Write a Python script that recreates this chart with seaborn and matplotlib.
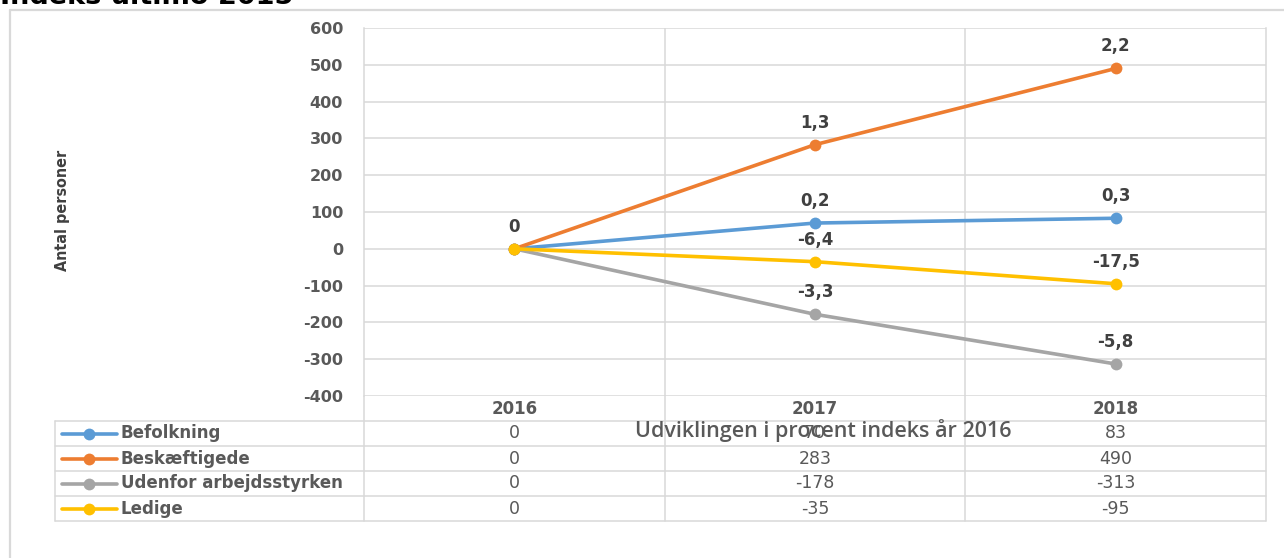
import matplotlib
matplotlib.use("Agg")
import matplotlib.pyplot as plt
import seaborn as sns
import pandas as pd
import numpy as np

# ---- data ----
years = ["2016", "2017", "2018"]
series_names = ["Befolkning", "Beskæftigede", "Udenfor arbejdsstyrken", "Ledige"]
befolkning = [0, 70, 83]
beskaeftigede = [0, 283, 490]
udenfor = [0, -178, -313]
ledige = [0, -35, -95]
pct_befolkning = ["0", "0,2", "0,3"]
pct_beskaeftigede = ["0", "1,3", "2,2"]
pct_udenfor = ["0", "-3,3", "-5,8"]
pct_ledige = ["0", "-6,4", "-17,5"]
colors = ["#5B9BD5", "#ED7D31", "#A5A5A5", "#FFC000"]
yticks = list(range(-400, 601, 100))
title = "Indeks ultimo 2015"
ylabel = "Antal personer"
xtitle = "Udviklingen i procent indeks år 2016"

values = [befolkning, beskaeftigede, udenfor, ledige]
pct_labels = [pct_befolkning, pct_beskaeftigede, pct_udenfor, pct_ledige]

rows = []
for name, vals in zip(series_names, values):
    for i, (yr, v) in enumerate(zip(years, vals)):
        rows.append({"serie": name, "pos": i, "year": yr, "value": v})
df = pd.DataFrame(rows)

sns.set_theme(style="white")
plt.rcParams["font.family"] = ["DejaVu Sans"]
plt.rcParams["axes.unicode_minus"] = False

W, H = 1284, 558
fig = plt.figure(figsize=(W / 100, H / 100), dpi=100)

def fx(px):
    return px / W

def fy(py):
    return 1 - py / H

GRID = "#D9D9D9"
TXT = "#595959"

# outer frame
fig.add_artist(plt.Line2D([fx(10), 1.0], [fy(10), fy(10)], color=GRID, lw=1.6, transform=fig.transFigure))
fig.add_artist(plt.Line2D([fx(10), fx(10)], [fy(10), 0.0], color=GRID, lw=1.6, transform=fig.transFigure))

# title (cut off at top)
fig.text(fx(0), fy(4), title, fontsize=19.5, fontweight="bold", color="#000000",
         ha="left", va="baseline")

# main axes
left_px, right_px, top_px, bot_px = 364, 1266, 28, 396
ax = fig.add_axes([fx(left_px), fy(bot_px), fx(right_px - left_px), (bot_px - top_px) / H])

for name, col in zip(series_names, colors):
    sub = df[df["serie"] == name]
    sns.lineplot(data=sub, x="pos", y="value", ax=ax, color=col, linewidth=2.6,
                 marker="o", markersize=8.5, markeredgewidth=0, legend=False, zorder=3)

ax.set_xlim(-0.5, len(years) - 0.5)
ax.set_ylim(min(yticks), max(yticks))
ax.set_yticks(yticks)
ax.set_yticklabels([str(t) for t in yticks])
ax.set_xticks([])
ax.set_xlabel("")
ax.set_ylabel("")
ax.tick_params(axis="y", length=0, pad=15, labelsize=11.5, labelcolor=TXT)
for lab in ax.get_yticklabels():
    lab.set_fontweight("bold")
for t in yticks:
    ax.axhline(t, color=GRID, lw=1.1, zorder=0)
for i in range(len(years) - 1):
    ax.axvline(i + 0.5, color=GRID, lw=1.1, zorder=0)
for s in ["top", "bottom"]:
    ax.spines[s].set_visible(False)
for s in ["left", "right"]:
    ax.spines[s].set_color(GRID)
    ax.spines[s].set_linewidth(1.1)

# data labels (identical overlapping labels drawn once)
drawn = set()
for vals, labs in zip(values, pct_labels):
    for i, (v, lab) in enumerate(zip(vals, labs)):
        key = (i, v, lab)
        if key in drawn:
            continue
        drawn.add(key)
        ax.annotate(lab, (i, v), xytext=(0, 22), textcoords="offset pixels",
                    ha="center", va="center", fontsize=12, fontweight="bold",
                    color="#404040", zorder=5)

# y label
fig.text(fx(62), fy(210), ylabel, rotation=90, ha="center", va="center",
         fontsize=11.5, color="#404040", fontweight="bold", fontstretch="condensed",
         family=["Liberation Sans Narrow", "DejaVu Sans"])

# data table axes
tab_left_px, tab_bot_px = 55, 521
tax = fig.add_axes([fx(tab_left_px), fy(tab_bot_px), fx(right_px - tab_left_px), (tab_bot_px - bot_px) / H])
scale = (right_px - left_px) / len(years)  # px per category
x0 = -0.5 - (left_px - tab_left_px) / scale
tax.set_xlim(x0, len(years) - 0.5)
tax.set_ylim(len(series_names) + 1, 0)
tax.axis("off")

nrows = len(series_names) + 1
for r in range(1, nrows + 1):
    tax.plot([x0, len(years) - 0.5], [r, r], color=GRID, lw=1.1, clip_on=False, zorder=0)
tax.plot([x0, x0], [1, nrows], color=GRID, lw=1.1, clip_on=False)
for b in np.arange(-0.5, len(years), 1.0):
    tax.plot([b, b], [0, nrows], color=GRID, lw=1.1, clip_on=False, zorder=0)

# header
for i, yr in enumerate(years):
    tax.text(i, 0.5, yr, ha="center", va="center", fontsize=12, fontweight="bold", color=TXT)

# rows
for r, (name, col, vals) in enumerate(zip(series_names, colors, values), start=1):
    lx0 = x0 + (62 - tab_left_px) / scale
    lx1 = x0 + (117 - tab_left_px) / scale
    tax.plot([lx0, lx1], [r + 0.5, r + 0.5], color=col, lw=2.6, clip_on=False)
    tax.plot([(lx0 + lx1) / 2], [r + 0.5], "o", color=col, ms=8.5, mew=0, clip_on=False)
    tax.text(x0 + (121 - tab_left_px) / scale, r + 0.5, name, ha="left", va="center",
             fontsize=12, fontweight="bold", color=TXT)
    for i, v in enumerate(vals):
        tax.text(i, r + 0.5, str(v), ha="center", va="center", fontsize=12.5, color=TXT)

# x-axis title (overlaps table as in reference)
fig.text(fx(823), fy(431), xtitle, ha="center", va="center", fontsize=15.5,
         fontweight="semibold", color=TXT, family=["Open Sans", "DejaVu Sans"])

fig.savefig("out.png", dpi=100)
